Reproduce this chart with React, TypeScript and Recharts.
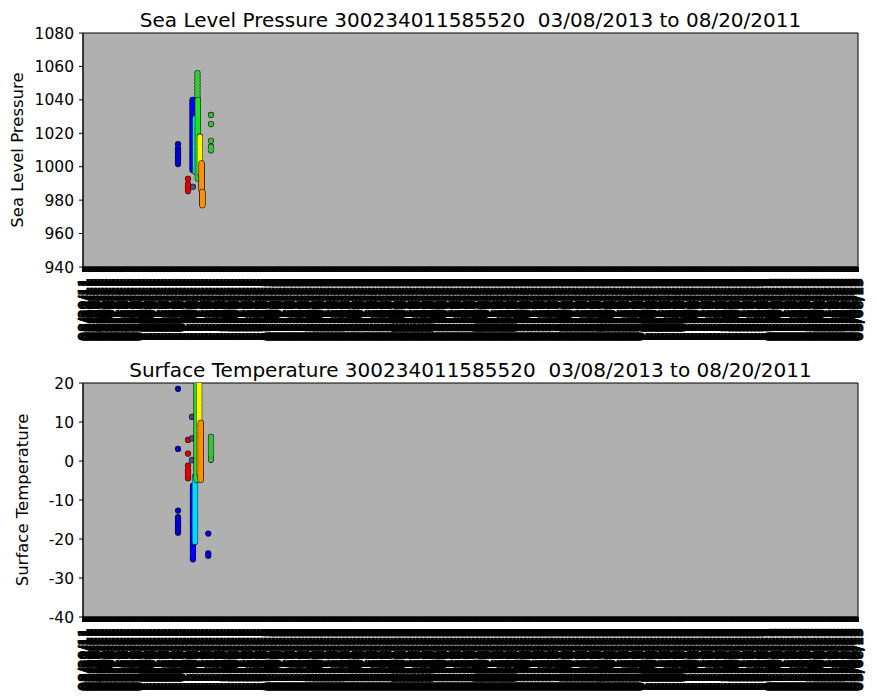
import React from 'react';
import {
  ScatterChart,
  Scatter,
  XAxis,
  YAxis,
  ReferenceArea,
} from 'recharts';

// x is days since 08/20/2011 (last obs 03/08/2013 -> day 566)
const START_UTC = Date.UTC(2011, 7, 20);
const LAST_DAY = 566;

const slpTicks = [940, 960, 980, 1000, 1020, 1040, 1060, 1080];
const tempTicks = [-40, -30, -20, -10, 0, 10, 20];

// sea level pressure (hPa), one list per track segment
const slpLeftBlue = [1013.5, 1011, 1010.2, 1009.4, 1008.6, 1007.8, 1007, 1006.2, 1005.4, 1004.6, 1003.8, 1003, 1002.2, 1001.6];
const slpRed = [992.8, 989.6, 988.9, 988.2, 987.5, 986.8, 986.1, 985.4];
const slpPurple = [988];
const slpBlue = [1040, 1039, 1038, 1037, 1036, 1035, 1034, 1033, 1032, 1031, 1030, 1029, 1028, 1027, 1026, 1025, 1024, 1023, 1022, 1021, 1020, 1019, 1018, 1017, 1016, 1015, 1014, 1013, 1012, 1011, 1010, 1009, 1008, 1007, 1006, 1005, 1004, 1003, 1002, 1001, 1000, 999, 998];
const slpCyan = [1029, 1028, 1027, 1026, 1025, 1024, 1023, 1022, 1021, 1020, 1019, 1018, 1017, 1016, 1015, 1014, 1013, 1012, 1011, 1010, 1009, 1008, 1007, 1006, 1005, 1004, 1003, 1002, 1001, 1000, 999, 998, 997];
const slpGreenTop = [1056, 1054, 1052, 1050, 1048, 1046, 1044, 1042];
const slpGreen = [1040, 1039, 1038, 1037, 1036, 1035, 1034, 1033, 1032, 1031, 1030, 1029, 1028, 1027, 1026, 1025, 1024, 1023, 1022, 1021, 1020, 1019, 1018, 1017, 1016, 1015, 1014, 1013, 1012, 1011, 1010, 1009, 1008, 1007, 1006, 1005, 1004, 1003, 1002, 1001, 1000, 999, 998, 997, 996, 995, 994, 993];
const slpYellow = [1018, 1017, 1016, 1015, 1014, 1013, 1012, 1011, 1010, 1009, 1008, 1007, 1006, 1005, 1004, 1003, 1002, 1001, 1000, 999, 998, 997, 996];
const slpOrange = [1002, 1001, 1000, 999, 998, 997, 996, 995, 994, 993, 992, 991, 990, 989, 988, 987, 986];
const slpOrangeLow = [985, 984, 983, 982, 981, 980, 979, 978, 977];
const slpRightGreen = [1031, 1025.5, 1015.5, 1012, 1011.2, 1010.5, 1009.8];

// surface temperature (degC)
const tLeftBlue = [18.5, 3.1, -12.7, -14.4, -14.8, -15.2, -15.6, -16, -16.4, -16.8, -17.2, -17.6, -18, -18.4];
const tRed = [5.4, 1.9, -1.2, -2.4, -2.8, -3.2, -3.6, -4, -4.4];
const tPurple = [11.3, 5.8, 0.2];
const tBlue = [-6.4, -6.8, -7.2, -7.6, -8, -8.4, -8.8, -9.2, -9.6, -10, -10.4, -10.8, -11.2, -11.6, -12, -12.4, -12.8, -13.2, -13.6, -14, -14.4, -14.8, -15.2, -15.6, -16, -16.4, -16.8, -17.2, -17.6, -18, -18.4, -18.8, -19.2, -19.6, -20, -20.4, -20.8, -21.2, -21.6, -22, -22.4, -22.8, -23.2, -23.6, -24, -24.4, -24.8, -25.2];
const tCyan = [-4, -4.4, -4.8, -5.2, -5.6, -6, -6.4, -6.8, -7.2, -7.6, -8, -8.4, -8.8, -9.2, -9.6, -10, -10.4, -10.8, -11.2, -11.6, -12, -12.4, -12.8, -13.2, -13.6, -14, -14.4, -14.8, -15.2, -15.6, -16, -16.4, -16.8, -17.2, -17.6, -18, -18.4, -18.8, -19.2, -19.6, -20, -20.4, -20.8];
const tGreen = [20, 19.6, 19.2, 18.8, 18.4, 18, 17.6, 17.2, 16.8, 16.4, 16, 15.6, 15.2, 14.8, 14.4, 14, 13.6, 13.2, 12.8, 12.4, 12, 11.6, 11.2, 10.8, 10.4, 10, 9.6, 9.2, 8.8, 8.4, 8, 7.6, 7.2, 6.8, 6.4, 6, 5.6, 5.2, 4.8, 4.4, 4, 3.6, 3.2, 2.8, 2.4, 2, 1.6, 1.2, 0.8, 0.4, 0, -0.4, -0.8, -1.2, -1.6, -2, -2.4, -2.8, -3.2, -3.6, -4, -4.4, -4.8];
const tYellow = [20, 19.6, 19.2, 18.8, 18.4, 18, 17.6, 17.2, 16.8, 16.4, 16, 15.6, 15.2, 14.8, 14.4, 14, 13.6, 13.2, 12.8, 12.4, 12, 11.6, 11.2, 10.8, 10.4, 10, 9.6, 9.2, 8.8, 8.4, 8, 7.6, 7.2, 6.8, 6.4, 6, 5.6, 5.2, 4.8, 4.4, 4, 3.6, 3.2, 2.8, 2.4, 2, 1.6, 1.2, 0.8, 0.4, 0, -0.4, -0.8, -1.2, -1.6, -2, -2.4, -2.8, -3.2];
const tOrange = [9.8, 9.4, 9, 8.6, 8.2, 7.8, 7.4, 7, 6.6, 6.2, 5.8, 5.4, 5, 4.6, 4.2, 3.8, 3.4, 3, 2.6, 2.2, 1.8, 1.4, 1, 0.6, 0.2, -0.2, -0.6, -1, -1.4, -1.8, -2.2, -2.6, -3, -3.4, -3.8, -4.2, -4.6, -4.8];
const tRightGreen = [6.2, 5.8, 5.4, 5, 4.6, 4.2, 3.8, 3.4, 3, 2.6, 2.2, 1.8, 1.4, 0.3];
const tRightBlue = [-18.6, -23.7, -24.3];

type Track = { name: string; day: number; values: number[]; color: string };

const slpSeries: Track[] = [
  { name: 'left blue', day: 69.4, values: slpLeftBlue, color: '#0000cc' },
  { name: 'red', day: 76.7, values: slpRed, color: '#e00000' },
  { name: 'purple', day: 80.3, values: slpPurple, color: '#4a4a8c' },
  { name: 'blue', day: 80.0, values: slpBlue, color: '#0000ff' },
  { name: 'cyan', day: 82.0, values: slpCyan, color: '#00d8ff' },
  { name: 'green top', day: 83.6, values: slpGreenTop, color: '#33cc33' },
  { name: 'green', day: 83.9, values: slpGreen, color: '#22e022' },
  { name: 'yellow', day: 85.4, values: slpYellow, color: '#f8f800' },
  { name: 'orange', day: 86.6, values: slpOrange, color: '#ff9000' },
  { name: 'orange low', day: 87.2, values: slpOrangeLow, color: '#ff9000' },
  { name: 'right green', day: 93.5, values: slpRightGreen, color: '#3cc03c' },
];

const tempSeries: Track[] = [
  { name: 'left blue', day: 69.4, values: tLeftBlue, color: '#0000cc' },
  { name: 'red', day: 76.7, values: tRed, color: '#e00000' },
  { name: 'purple', day: 79.6, values: tPurple, color: '#4a4a8c' },
  { name: 'blue', day: 80.3, values: tBlue, color: '#0000ff' },
  { name: 'cyan', day: 81.8, values: tCyan, color: '#00d8ff' },
  { name: 'green', day: 83.0, values: tGreen, color: '#22e022' },
  { name: 'yellow', day: 84.8, values: tYellow, color: '#f8f800' },
  { name: 'orange', day: 86.0, values: tOrange, color: '#ff9000' },
  { name: 'right green', day: 93.5, values: tRightGreen, color: '#3cc03c' },
  { name: 'right blue', day: 91.5, values: tRightBlue, color: '#0000d8' },
];

// one tick per day
const dayTicks: number[] = [];
for (let d = 0; d <= LAST_DAY; d++) dayTicks.push(d);

const pad = (n: number) => (n < 10 ? '0' + n : '' + n);
const fmtDay = (d: number) => {
  const dt = new Date(START_UTC + d * 86400000);
  return `${pad(dt.getUTCMonth() + 1)}/${pad(dt.getUTCDate())}/${pad(dt.getUTCFullYear() % 100)}`;
};

const DateTick = (props: any) => {
  const { x, y, payload } = props;
  return (
    <text
      x={x}
      y={y}
      transform={`rotate(-90, ${x}, ${y})`}
      textAnchor="end"
      dy="0.35em"
      fontSize={14}
      fill="#000"
      stroke="#000"
      strokeWidth={0.8}
    >
      {fmtDay(payload.value)}
    </text>
  );
};

// black underlay gives the marker edge, colour layer on top
const edgeDot = (p: any) => <circle cx={p.cx} cy={p.cy} r={3.1} fill="#111" />;
const fillDot = (color: string) => (p: any) => (
  <circle cx={p.cx} cy={p.cy} r={2.5} fill={color} />
);

const toRows = (t: Track) => t.values.map((v) => ({ x: t.day, y: v }));

interface PanelProps {
  title: string;
  yLabel: string;
  yTicks: number[];
  labelOffset: number;
  series: Track[];
}

const Panel: React.FC<PanelProps> = ({ title, yLabel, yTicks, labelOffset, series }) => {
  const yMin = yTicks[0];
  const yMax = yTicks[yTicks.length - 1];
  return (
    <div style={{ position: 'relative', width: 877, height: 350 }}>
      <div
        style={{
          position: 'absolute',
          left: 83,
          width: 775,
          top: 8,
          textAlign: 'center',
          fontSize: 20,
          whiteSpace: 'pre',
          color: '#000',
        }}
      >
        {title}
      </div>
      <ScatterChart width={877} height={350} margin={{ top: 33, right: 19, bottom: 0, left: 0 }}>
        <XAxis
          type="number"
          dataKey="x"
          domain={[0, LAST_DAY]}
          ticks={dayTicks}
          interval={0}
          height={83}
          tick={<DateTick />}
          tickSize={5}
          tickMargin={6}
          stroke="#000"
          tickLine={{ stroke: '#000', strokeWidth: 2 }}
          allowDataOverflow
        />
        <YAxis
          type="number"
          dataKey="y"
          domain={[yMin, yMax]}
          ticks={yTicks}
          width={83}
          tickSize={4}
          tickMargin={5}
          stroke="#000"
          tick={{ fill: '#000', fontSize: 15.5 }}
          allowDataOverflow
          label={{
            value: yLabel,
            angle: -90,
            position: 'insideLeft',
            offset: labelOffset,
            style: { textAnchor: 'middle', fontSize: 16.5, fill: '#000' },
          }}
        />
        <ReferenceArea
          x1={0}
          x2={LAST_DAY}
          y1={yMin}
          y2={yMax}
          fill="#b0b0b0"
          fillOpacity={1}
          stroke="#000"
          strokeWidth={1}
        />
        {series.flatMap((s) => [
          <Scatter
            key={s.name + '-edge'}
            name={s.name + ' edge'}
            data={toRows(s)}
            fill="#111"
            shape={edgeDot}
            isAnimationActive={false}
          />,
          <Scatter
            key={s.name}
            name={s.name}
            data={toRows(s)}
            fill={s.color}
            shape={fillDot(s.color)}
            isAnimationActive={false}
          />,
        ])}
      </ScatterChart>
    </div>
  );
};

export default function App() {
  return (
    <div
      style={{
        position: 'absolute',
        left: 0,
        top: 0,
        width: 877,
        height: 700,
        background: '#fff',
        fontFamily: 'DejaVu Sans',
      }}
    >
      <Panel
        title="Sea Level Pressure 300234011585520  03/08/2013 to 08/20/2011"
        yLabel="Sea Level Pressure"
        yTicks={slpTicks}
        labelOffset={17}
        series={slpSeries}
      />
      <Panel
        title="Surface Temperature 300234011585520  03/08/2013 to 08/20/2011"
        yLabel="Surface Temperature"
        yTicks={tempTicks}
        labelOffset={22}
        series={tempSeries}
      />
    </div>
  );
}
